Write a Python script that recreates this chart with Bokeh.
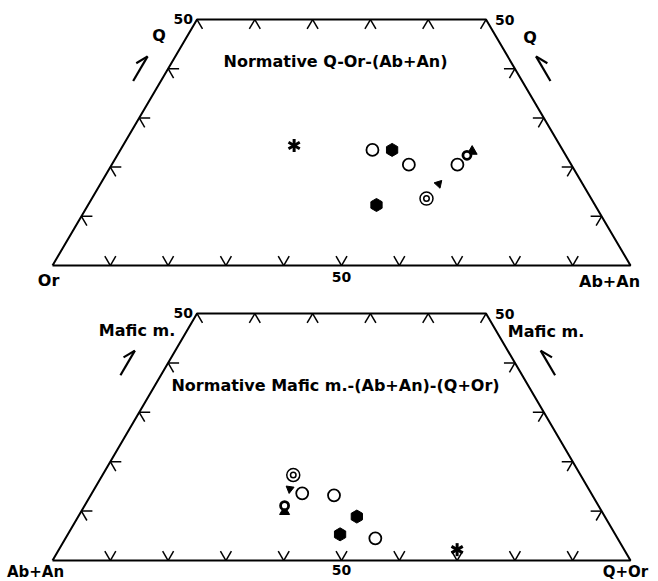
import numpy as np
from bokeh.plotting import figure
from bokeh.models import Label
from bokeh.layouts import column
from bokeh.embed import file_html
from bokeh.resources import INLINE

# ---------------- data ----------------
grid_ticks = [10, 20, 30, 40, 50, 60, 70, 80, 90]
cut = 50  # diagrams truncated at 50 % of apex component

# Top diagram: apex = Q, left = Or, right = Ab+An (per cent)
top_labels = {"apex": "Q", "left": "Or", "right": "Ab+An",
              "title": "Normative Q-Or-(Ab+An)"}
top_open_Q = [23.5, 20.5, 20.5]
top_open_AbAn = [43.6, 51.4, 59.8]
top_hex_Q = [23.5, 12.3]
top_hex_AbAn = [47.0, 49.9]
top_ring_Q = [13.6]
top_ring_AbAn = [57.9]
top_bold_Q = [22.4]
top_bold_AbAn = [60.5]
top_tri_Q = [23.2]
top_tri_AbAn = [61.0]
top_arrow_Q = [16.6]
top_arrow_AbAn = [58.5]
top_arrow_dir = [-0.74]
top_star_Q = [24.4]
top_star_AbAn = [29.6]

# Bottom diagram: apex = Mafic m., left = Ab+An, right = Q+Or (per cent)
bot_labels = {"apex": "Mafic m.", "left": "Ab+An", "right": "Q+Or",
              "title": "Normative Mafic m.-(Ab+An)-(Q+Or)"}
bot_open_M = [13.6, 13.2, 4.5]
bot_open_QOr = [36.4, 42.1, 53.6]
bot_hex_M = [8.9, 5.3]
bot_hex_QOr = [48.2, 47.1]
bot_ring_M = [17.3]
bot_ring_QOr = [33.0]
bot_bold_M = [11.1]
bot_bold_QOr = [34.6]
bot_tri_M = [9.9]
bot_tri_QOr = [35.2]
bot_arrow_M = [14.5]
bot_arrow_QOr = [33.8]
bot_arrow_dir = [3.0]
bot_star_M = [2.2]
bot_star_QOr = [68.9]

S3 = np.sqrt(3) / 2
FONT = "DejaVu Sans"
X_RANGE = (-9.0, 104.84)
W = 658


def tern(apex, right):
    apex = np.asarray(apex, dtype=float)
    right = np.asarray(right, dtype=float)
    return right + apex / 2, apex * S3


def make_fig(h, y0, y1):
    p = figure(width=W, height=h, x_range=X_RANGE, y_range=(y0, y1),
               output_backend="svg", toolbar_location=None,
               x_axis_location=None, y_axis_location=None, min_border=0)
    p.grid.visible = False
    p.outline_line_color = None
    p.background_fill_color = "white"
    p.border_fill_color = "white"
    return p


def frame(p):
    xs, ys = tern([0, cut, cut, 0, 0], [0, 0, 100 - cut, 100, 0])
    p.line(xs, ys, line_color="black", line_width=2)
    # tick stubs: short pieces of the 10 % grid lines at the boundary
    L = 1.9
    sx, sy = [], []

    def stub(pt, d):
        sx.append([pt[0], pt[0] + L * d[0]])
        sy.append([pt[1], pt[1] + L * d[1]])

    up_left = (-0.5, S3)
    up_right = (0.5, S3)
    for k in grid_ticks:
        if k < cut:
            stub(tern(k, 0), (1, 0))
            stub(tern(k, 100 - k), (-1, 0))
        # lines of constant left component (parallel to right side)
        stub(tern(0, 100 - k), up_left)
        other = tern(100 - k, 0) if k >= cut else tern(cut, cut - k)
        stub(other, (-up_left[0], -up_left[1]))
        # lines of constant right component (parallel to left side)
        stub(tern(0, k), up_right)
        other = tern(100 - k, k) if k >= cut else tern(cut, k)
        stub(other, (-up_right[0], -up_right[1]))
    p.multi_line(sx, sy, line_color="black", line_width=1.5)


def half_arrow(p, side, shift):
    h = 2.5
    if side == "left":
        u = np.array([0.5, S3])
        c = np.array(tern(40, 0)) + np.array([shift, 0])
        rot = -0.5
    else:
        u = np.array([-0.5, S3])
        c = np.array(tern(40, 60)) + np.array([shift, 0])
        rot = 0.5
    tail = c - u * h
    tip = c + u * h
    back = -u
    b = np.array([back[0] * np.cos(rot) - back[1] * np.sin(rot),
                  back[0] * np.sin(rot) + back[1] * np.cos(rot)]) * 2.3
    p.multi_line([[tail[0], tip[0]], [tip[0], tip[0] + b[0]]],
                 [[tail[1], tip[1]], [tip[1], tip[1] + b[1]]],
                 line_color="black", line_width=2.2)


def symbols(p, opn, hexs, ring, bold, tri, arrow, adir, star):
    x, y = tern(*opn)
    p.scatter(x, y, marker="circle", size=12, fill_color="white",
              line_color="black", line_width=1.8)
    x, y = tern(*hexs)
    p.scatter(x, y, marker="hex", size=13, angle=np.pi / 6,
              fill_color="black", line_color="black")
    x, y = tern(*ring)
    p.scatter(x, y, marker="circle", size=13, fill_color="white",
              line_color="black", line_width=1.5)
    p.scatter(x, y, marker="circle", size=5.5, fill_color="white",
              line_color="black", line_width=1.5)
    x, y = tern(*tri)
    p.scatter(x, y, marker="triangle", size=10, fill_color="black",
              line_color="black")
    x, y = tern(*bold)
    p.scatter(x, y, marker="circle", size=8, fill_color="white",
              line_color="black", line_width=2.8)
    x, y = tern(*arrow)
    p.scatter(x, y, marker="triangle", size=8, angle=adir,
              fill_color="black", line_color="black")
    x, y = tern(*star)
    for a in (np.pi / 2, np.pi / 6, -np.pi / 6):
        p.scatter(x, y, marker="dash", size=13, angle=a, line_color="black",
                  line_width=3)


def lab(p, text, pt, dx, dy, align="center", size="16px"):
    p.add_layout(Label(x=float(pt[0]), y=float(pt[1]), x_offset=dx, y_offset=dy,
                       text=text, text_align=align, text_baseline="middle",
                       text_font=FONT, text_font_style="bold",
                       text_font_size=size, text_color="black"))


def labels(p, names, title_dy, apex_l, apex_r, arrow_l, arrow_r, vdy, vsize):
    tl = tern(cut, 0)
    tr = tern(cut, 100 - cut)
    bl = tern(0, 0)
    br = tern(0, 100)
    mid = tern(0, 50)
    lab(p, "50", tl, -4, 1, "right", "14px")
    lab(p, "50", tr, 9, 0, "left", "14px")
    lab(p, names["apex"], tl, apex_l[0], apex_l[1])
    lab(p, names["apex"], tr, apex_r[0], apex_r[1])
    lab(p, names["title"], (tern(cut, 50 - cut / 2)[0], tl[1]), -6, title_dy)
    lab(p, names["left"], bl, vdy[0], vdy[1], "center", vsize)
    lab(p, "50", mid, 0, vdy[4], "center", "14px")
    lab(p, names["right"], br, vdy[2], vdy[3], "center", vsize)
    half_arrow(p, "left", arrow_l)
    half_arrow(p, "right", arrow_r)


# ---------------- top diagram ----------------
p1 = make_fig(290, -4.40, 46.65)
frame(p1)
labels(p1, top_labels, -42, (-38, -16), (44, -18), -4.8, 4.9,
       (-4, -15, -21, -16, -11), "16px")
symbols(p1, (top_open_Q, top_open_AbAn), (top_hex_Q, top_hex_AbAn),
        (top_ring_Q, top_ring_AbAn), (top_bold_Q, top_bold_AbAn),
        (top_tri_Q, top_tri_AbAn), (top_arrow_Q, top_arrow_AbAn),
        top_arrow_dir, (top_star_Q, top_star_AbAn))

# ---------------- bottom diagram ----------------
p2 = make_fig(291, -3.68, 47.34)
frame(p2)
labels(p2, bot_labels, -72, (-60, -17), (60, -18), -7.0, 5.7,
       (-17, -11, -5, -11, -9), "15px")
symbols(p2, (bot_open_M, bot_open_QOr), (bot_hex_M, bot_hex_QOr),
        (bot_ring_M, bot_ring_QOr), (bot_bold_M, bot_bold_QOr),
        (bot_tri_M, bot_tri_QOr), (bot_arrow_M, bot_arrow_QOr),
        bot_arrow_dir, (bot_star_M, bot_star_QOr))

layout = column(p1, p2, spacing=0)
open("out.html", "w").write(file_html(layout, INLINE))
